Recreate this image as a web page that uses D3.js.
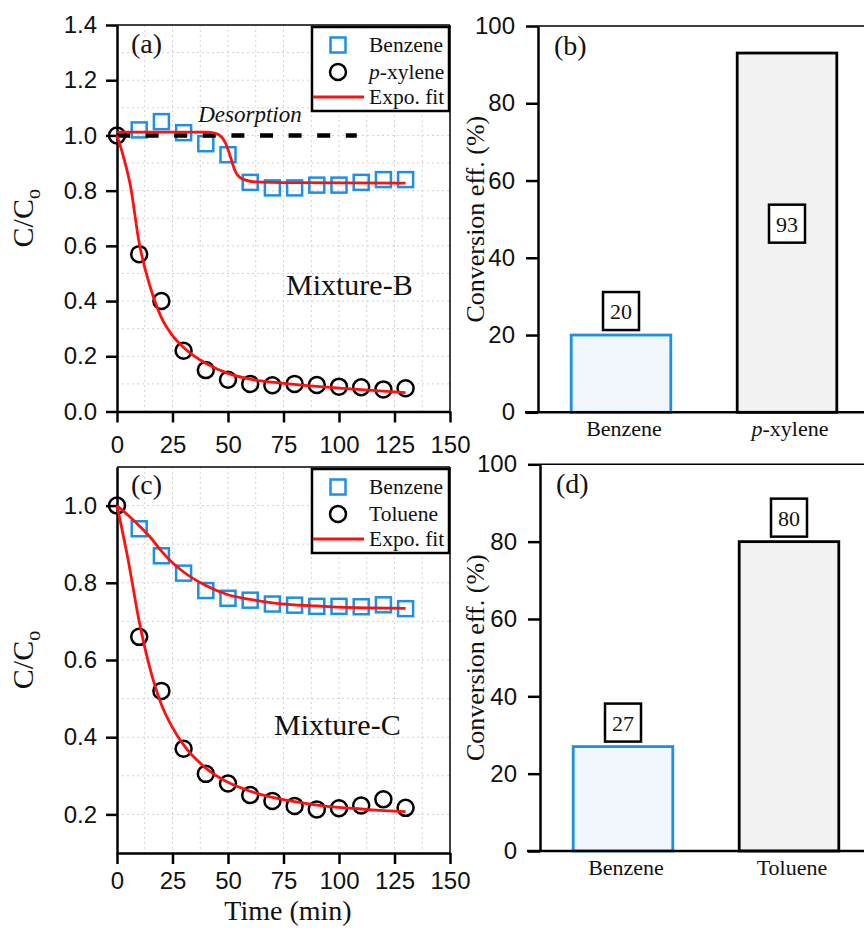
<!DOCTYPE html>
<html>
<head>
<meta charset="utf-8">
<script src="https://cdn.jsdelivr.net/npm/d3@7/dist/d3.min.js"></script>
<style>
    body { margin: 0; background: #fff; }
    .serif { font-family: "Liberation Serif", "Times New Roman", serif; }
    .sans { font-family: "Liberation Sans", Arial, sans-serif; }
</style>
</head>
<body>
<div id="chart"></div>
<script>
const times = [0, 10, 20, 30, 40, 50, 60, 70, 80, 90, 100, 110, 120, 130];

// (a) Mixture-B
const benzeneB = [null, 1.02, 1.05, 1.01, 0.97, 0.93, 0.83, 0.81, 0.81, 0.82, 0.82, 0.83, 0.84, 0.84];
const xyleneB = [1.00, 0.57, 0.40, 0.22, 0.15, 0.115, 0.10, 0.095, 0.10, 0.096, 0.09, 0.088, 0.08, 0.084];
const benzeneFitBTime = [0, 20, 40, 44, 47, 49, 51, 53, 55, 58, 62, 80, 130];
const benzeneFitB = [1.012, 1.012, 1.012, 1.008, 0.995, 0.97, 0.925, 0.875, 0.85, 0.838, 0.832, 0.829, 0.827];
const xyleneFitTime = [0, 3, 6, 10, 15, 20, 25, 30, 35, 40, 50, 60, 75, 100, 130];
const xyleneFit = [1.0, 0.92, 0.82, 0.61, 0.45, 0.34, 0.275, 0.232, 0.2, 0.175, 0.138, 0.117, 0.102, 0.085, 0.068];
const desorptionLevel = 1.0;
const desorptionEnd = 108;

// (c) Mixture-C
const benzeneC = [null, 0.94, 0.87, 0.825, 0.78, 0.76, 0.755, 0.745, 0.742, 0.739, 0.739, 0.738, 0.743, 0.733];
const tolueneC = [1.00, 0.66, 0.52, 0.37, 0.305, 0.28, 0.25, 0.235, 0.222, 0.213, 0.216, 0.223, 0.239, 0.217];
const benzeneFitCTime = [0, 5, 10, 15, 20, 25, 30, 40, 50, 60, 70, 80, 90, 100, 115, 130];
const benzeneFitC = [1.0, 0.975, 0.948, 0.918, 0.882, 0.852, 0.828, 0.793, 0.769, 0.757, 0.748, 0.743, 0.74, 0.737, 0.735, 0.734];
const tolueneFitCTime = [0, 5, 10, 15, 20, 25, 30, 40, 50, 60, 70, 80, 90, 100, 110, 120, 130];
const tolueneFitC = [1.0, 0.86, 0.70, 0.575, 0.485, 0.425, 0.38, 0.32, 0.283, 0.26, 0.244, 0.233, 0.224, 0.218, 0.214, 0.21, 0.207];

// (b), (d) conversion efficiency
const barCatsB = ["Benzene", "p-xylene"];
const barValsB = [20, 93];
const barCatsD = ["Benzene", "Toluene"];
const barValsD = [27, 80];

const xTicks = [0, 25, 50, 75, 100, 125, 150];
const yTicksB = [0, 0.2, 0.4, 0.6, 0.8, 1.0, 1.2, 1.4];
const yTicksC = [0.2, 0.4, 0.6, 0.8, 1.0];
const barTicks = [0, 20, 40, 60, 80, 100];

const BLUE = "#1e8fe6";
const RED = "#ff1010";

const svg = d3.select("#chart").append("svg")
    .attr("width", 864)
    .attr("height", 928)
    .style("background", "#fff");

function styleAxis(g, size) {
    g.select(".domain").attr("stroke", "#000").attr("stroke-width", 2.5);
    g.selectAll(".tick line").attr("stroke", "#000").attr("stroke-width", 2.5);
    g.selectAll(".tick text")
        .attr("class", "sans")
        .attr("fill", "#111")
        .style("font-size", size + "px");
}

function toPoints(xs, ys) {
    return xs.map((t, i) => [t, ys[i]]).filter(d => d[1] != null);
}

function linePanel(p) {
    const x = d3.scaleLinear().domain([0, 150]).range([p.left, p.right]);
    const y = d3.scaleLinear().domain(p.yDomain).range([p.bottom, p.top]);
    const g = svg.append("g");

    // faint dotted grid
    const gx = d3.range(12.5, 150, 12.5);
    const gy = d3.range(p.yDomain[0] + 0.1, p.yDomain[1] - 0.05, 0.1);
    g.selectAll(".gx").data(gx).join("line")
        .attr("x1", d => x(d)).attr("x2", d => x(d))
        .attr("y1", p.top).attr("y2", p.bottom)
        .attr("stroke", "#d2d2d2").attr("stroke-width", 1).attr("stroke-dasharray", "2,3");
    g.selectAll(".gy").data(gy).join("line")
        .attr("x1", p.left).attr("x2", p.right)
        .attr("y1", d => y(d)).attr("y2", d => y(d))
        .attr("stroke", "#d2d2d2").attr("stroke-width", 1).attr("stroke-dasharray", "2,3");

    // frame top / right
    g.append("line").attr("x1", p.left).attr("x2", p.right).attr("y1", p.top).attr("y2", p.top)
        .attr("stroke", "#000").attr("stroke-width", 1.5);
    g.append("line").attr("x1", p.right).attr("x2", p.right).attr("y1", p.top).attr("y2", p.bottom)
        .attr("stroke", "#000").attr("stroke-width", 1.5);

    // axes
    const ax = g.append("g").attr("transform", `translate(0,${p.bottom})`)
        .call(d3.axisBottom(x).tickValues(xTicks).tickSize(11).tickSizeOuter(0).tickPadding(p.xPad));
    styleAxis(ax, 24);
    const ay = g.append("g").attr("transform", `translate(${p.left},0)`)
        .call(d3.axisLeft(y).tickValues(p.yTicks).tickSize(11).tickSizeOuter(0).tickPadding(9)
            .tickFormat(d3.format(".1f")));
    styleAxis(ay, 24);

    // y title C/Co
    const yt = g.append("text").attr("class", "serif")
        .attr("transform", `translate(33,${(p.top + p.bottom) / 2}) rotate(-90)`)
        .attr("text-anchor", "middle")
        .style("font-size", "30px").attr("fill", "#111");
    yt.append("tspan").text("C/C");
    yt.append("tspan").attr("dy", 7).style("font-size", "20px").text("o");

    // markers
    const sq = 15;
    g.selectAll(".sq").data(toPoints(times, p.benzene)).join("rect")
        .attr("x", d => x(d[0]) - sq / 2).attr("y", d => y(d[1]) - sq / 2)
        .attr("width", sq).attr("height", sq)
        .attr("fill", "none").attr("stroke", BLUE).attr("stroke-width", 2.5);
    g.selectAll(".ci").data(toPoints(times, p.other)).join("circle")
        .attr("cx", d => x(d[0])).attr("cy", d => y(d[1])).attr("r", 8)
        .attr("fill", "none").attr("stroke", "#000").attr("stroke-width", 2.5);

    if (p.desorption) {
        g.append("line")
            .attr("x1", x(0)).attr("x2", x(desorptionEnd))
            .attr("y1", y(desorptionLevel)).attr("y2", y(desorptionLevel))
            .attr("stroke", "#000").attr("stroke-width", 4.5).attr("stroke-dasharray", "13,15.6");
        g.append("text").attr("class", "serif")
            .attr("x", 250).attr("y", 122).attr("text-anchor", "middle")
            .style("font-size", "23px").style("font-style", "italic").attr("fill", "#111")
            .text("Desorption");
    }

    const line = d3.line().x(d => x(d[0])).y(d => y(d[1])).curve(d3.curveMonotoneX);
    [toPoints(p.benzeneFitTime, p.benzeneFit), toPoints(p.otherFitTime, p.otherFit)].forEach(pts => {
        g.append("path").attr("d", line(pts))
            .attr("fill", "none").attr("stroke", RED).attr("stroke-width", 2.8);
    });

    // legend
    const lg = g.append("g").attr("transform", `translate(312,${p.top + 2})`);
    lg.append("rect").attr("x", 0).attr("y", 0).attr("width", 137).attr("height", 84)
        .attr("fill", "#fff").attr("stroke", "#000").attr("stroke-width", 2.5);
    lg.append("rect").attr("x", 26 - sq / 2).attr("y", 18 - sq / 2).attr("width", sq).attr("height", sq)
        .attr("fill", "none").attr("stroke", BLUE).attr("stroke-width", 2.5);
    lg.append("circle").attr("cx", 26).attr("cy", 45).attr("r", 8)
        .attr("fill", "none").attr("stroke", "#000").attr("stroke-width", 2.5);
    lg.append("line").attr("x1", 1).attr("x2", 52).attr("y1", 70).attr("y2", 70)
        .attr("stroke", RED).attr("stroke-width", 2.8);
    const lt = (yy) => lg.append("text").attr("class", "serif").attr("x", 57).attr("y", yy)
        .style("font-size", "21.5px").attr("fill", "#111");
    lt(25).text("Benzene");
    const nm = lt(52);
    if (p.otherName === "p-xylene") {
        nm.append("tspan").style("font-style", "italic").text("p");
        nm.append("tspan").text("-xylene");
    } else {
        nm.text(p.otherName);
    }
    lt(77).text("Expo. fit");

    g.append("text").attr("class", "serif").attr("x", p.left + 14).attr("y", p.top + p.labelDy)
        .style("font-size", "28px").attr("fill", "#111").text(p.label);
    g.append("text").attr("class", "serif").attr("x", p.mixX).attr("y", p.mixY)
        .style("font-size", "30px").attr("fill", "#111").text(p.mixture);
}

function barPanel(p) {
    const x = d3.scaleBand().domain(p.cats).range([p.left, p.left + 332]).paddingInner(0.4).paddingOuter(0.2);
    const y = d3.scaleLinear().domain([0, 100]).range([p.bottom, p.top]);
    const g = svg.append("g");

    g.append("line").attr("x1", p.left).attr("x2", 864).attr("y1", p.top).attr("y2", p.top)
        .attr("stroke", "#000").attr("stroke-width", 1.5);

    g.selectAll(".bar").data(p.vals).join("rect")
        .attr("x", (d, i) => x(p.cats[i]))
        .attr("y", d => y(d))
        .attr("width", x.bandwidth())
        .attr("height", d => y(0) - y(d))
        .attr("fill", (d, i) => i === 0 ? "#f1f6fc" : "#f2f2f2")
        .attr("stroke", (d, i) => i === 0 ? BLUE : "#000")
        .attr("stroke-width", 2.8);

    const ay = g.append("g").attr("transform", `translate(${p.left},0)`)
        .call(d3.axisLeft(y).tickValues(barTicks).tickSize(12).tickSizeOuter(0).tickPadding(11));
    styleAxis(ay, 24);
    g.append("line").attr("x1", p.left - 13).attr("x2", 864).attr("y1", p.bottom).attr("y2", p.bottom)
        .attr("stroke", "#000").attr("stroke-width", 2.5);

    // value boxes
    const bw = 36, bh = 38;
    p.vals.forEach((v, i) => {
        const cx = x(p.cats[i]) + x.bandwidth() / 2;
        const cy = v > 85 ? y(v / 2) - 9 : y(v) - 5 - bh / 2;
        g.append("rect").attr("x", cx - bw / 2).attr("y", cy - bh / 2).attr("width", bw).attr("height", bh)
            .attr("fill", "#fff").attr("stroke", "#000").attr("stroke-width", 2.5);
        g.append("text").attr("class", "serif").attr("x", cx).attr("y", cy + 8)
            .attr("text-anchor", "middle").style("font-size", "22px").attr("fill", "#111").text(v);

        const cl = g.append("text").attr("class", "serif").attr("x", cx + 3).attr("y", p.bottom + 24)
            .attr("text-anchor", "middle").style("font-size", "22px").attr("fill", "#111");
        if (p.cats[i] === "p-xylene") {
            cl.append("tspan").style("font-style", "italic").text("p");
            cl.append("tspan").text("-xylene");
        } else {
            cl.text(p.cats[i]);
        }
    });

    g.append("text").attr("class", "serif")
        .attr("transform", `translate(484,${(p.top + p.bottom) / 2}) rotate(-90)`)
        .attr("text-anchor", "middle").style("font-size", "26px").attr("fill", "#111")
        .text("Conversion eff. (%)");
    g.append("text").attr("class", "serif").attr("x", p.left + 16).attr("y", p.top + 29)
        .style("font-size", "28px").attr("fill", "#111").text(p.label);
}

linePanel({
    left: 117, right: 450, top: 25, bottom: 411.5,
    yDomain: [0, 1.4], yTicks: yTicksB, xPad: 13,
    benzene: benzeneB, other: xyleneB, otherName: "p-xylene",
    benzeneFitTime: benzeneFitBTime, benzeneFit: benzeneFitB,
    otherFitTime: xyleneFitTime, otherFit: xyleneFit,
    desorption: true, label: "(a)", labelDy: 28,
    mixture: "Mixture-B", mixX: 286, mixY: 295
});

linePanel({
    left: 117, right: 450, top: 467, bottom: 853,
    yDomain: [0.1, 1.1], yTicks: yTicksC, xPad: 8,
    benzene: benzeneC, other: tolueneC, otherName: "Toluene",
    benzeneFitTime: benzeneFitCTime, benzeneFit: benzeneFitC,
    otherFitTime: tolueneFitCTime, otherFit: tolueneFitC,
    desorption: false, label: "(c)", labelDy: 27,
    mixture: "Mixture-C", mixX: 274, mixY: 735
});

svg.append("text").attr("class", "serif")
    .attr("x", 288).attr("y", 920).attr("text-anchor", "middle")
    .style("font-size", "28px").attr("fill", "#111").text("Time (min)");

barPanel({ left: 538, top: 26, bottom: 412.3, cats: barCatsB, vals: barValsB, label: "(b)" });
barPanel({ left: 540, top: 464.3, bottom: 851, cats: barCatsD, vals: barValsD, label: "(d)" });
</script>
</body>
</html>
